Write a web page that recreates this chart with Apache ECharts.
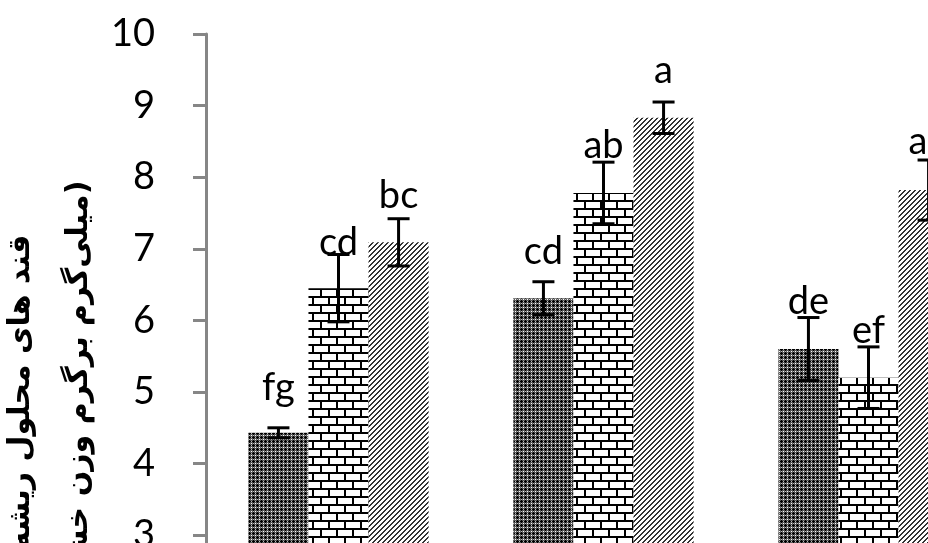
<!DOCTYPE html>
<html>
<head>
<meta charset="utf-8">
<script src="https://cdn.jsdelivr.net/npm/echarts@6/dist/echarts.min.js"></script>
<style>
html,body{margin:0;padding:0;background:#fff;}
#chart{width:928px;height:543px;}
</style>
</head>
<body>
<div id="chart"></div>
<script>
// ---- data ----
const categories = ['T1', 'T2', 'T3'];
const seriesNames = ['S1', 'S2', 'S3'];
const values1 = [4.43, 6.31, 5.60];
const values2 = [6.45, 7.78, 5.20];
const values3 = [7.09, 8.83, 7.82];
const errors1 = [0.07, 0.23, 0.44];
const errors2 = [0.47, 0.43, 0.43];
const errors3 = [0.33, 0.22, 0.42];
const letters1 = ['fg', 'cd', 'de'];
const letters2 = ['cd', 'ab', 'ef'];
const letters3 = ['bc', 'a', 'ab'];
const yTicks = [0, 1, 2, 3, 4, 5, 6, 7, 8, 9, 10];

// ---- styles ----
const labelGap1 = [28, 18, 4];
const labelGap2 = [0, 4, 4];
const labelGap3 = [11, 19, 6];

function makePattern(kind) {
  const c = document.createElement('canvas');
  const ctx = c.getContext('2d');
  if (kind === 'dark') {
    c.width = 4; c.height = 4;
    ctx.fillStyle = '#5a5a5a'; ctx.fillRect(0, 0, 4, 4);
    ctx.fillStyle = '#000';
    ctx.fillRect(1, 0, 1, 3); ctx.fillRect(0, 1, 3, 1);
    ctx.fillStyle = '#fff'; ctx.fillRect(3, 3, 1, 1);
    ctx.fillStyle = '#bbb'; ctx.fillRect(3, 1, 1, 1); ctx.fillRect(1, 3, 1, 1);
  } else if (kind === 'brick') {
    c.width = 16; c.height = 16;
    ctx.fillStyle = '#fff'; ctx.fillRect(0, 0, 16, 16);
    ctx.fillStyle = '#000';
    ctx.fillRect(0, 0, 16, 2);
    ctx.fillRect(0, 8, 16, 2);
    ctx.fillRect(0, 0, 2, 8);
    ctx.fillRect(8, 8, 2, 8);
  } else {
    c.width = 5; c.height = 5;
    ctx.fillStyle = '#fff'; ctx.fillRect(0, 0, 5, 5);
    ctx.fillStyle = '#333';
    for (let i = 0; i < 5; i++) {
      ctx.fillRect(i, 4 - i, 1, 1);
      ctx.fillRect((i + 1) % 5, 4 - i, 1, 1);
    }
  }
  return { image: c, repeat: 'repeat' };
}

const barWidthRatio = (1 - 0.32) / 3;

function errSeries(idx, vals, errs, letters, gaps) {
  return {
    type: 'custom',
    z: 10,
    silent: true,
    clip: false,
    data: vals.map((v, i) => [i, v, errs[i]]),
    renderItem: function (params, api) {
      const cat = api.value(0), v = api.value(1), e = api.value(2);
      const band = api.size([1, 0])[0];
      const bw = band * barWidthRatio;
      const off = (idx - 1) * bw;
      const top = api.coord([cat, v + e]);
      const bot = api.coord([cat, v - e]);
      const x = top[0] + off;
      const cap = 11;
      const ls = { stroke: '#000', lineWidth: 3 };
      return {
        type: 'group',
        children: [
          { type: 'line', shape: { x1: x, y1: top[1], x2: x, y2: bot[1] }, style: ls },
          { type: 'line', shape: { x1: x - cap, y1: top[1], x2: x + cap, y2: top[1] }, style: ls },
          { type: 'line', shape: { x1: x - cap, y1: bot[1], x2: x + cap, y2: bot[1] }, style: ls },
          { type: 'text', style: {
              text: letters[cat], x: x, y: top[1] - gaps[cat] + 7,
              align: 'center', verticalAlign: 'bottom',
              font: '38px Lato', fill: '#000' } }
        ]
      };
    }
  };
}

const chart = echarts.init(document.getElementById('chart'));
chart.setOption({
  animation: false,
  backgroundColor: '#fff',
  grid: { left: 206, top: 34, right: -73, bottom: -207, containLabel: false, outerBoundsMode: 'none' },
  xAxis: {
    type: 'category', data: categories,
    axisLine: { show: true, lineStyle: { color: '#868686', width: 3 } },
    axisTick: { show: false }, axisLabel: { show: false }
  },
  yAxis: {
    type: 'value', min: yTicks[0], max: yTicks[yTicks.length - 1], interval: 1,
    name: 'قند های محلول ریشه\n(میلی\u200cگرم برگرم وزن خشک)',
    nameLocation: 'middle', nameRotate: 90, nameGap: 98, nameMoveOverlap: false,
    nameTextStyle: { fontFamily: 'DejaVu Sans', fontWeight: 'bold', fontSize: 30, lineHeight: 58, color: '#000' },
    axisLine: { show: true, lineStyle: { color: '#868686', width: 3 } },
    axisTick: { show: true, length: 13, lineStyle: { color: '#868686', width: 3 } },
    splitLine: { show: false },
    axisLabel: { fontFamily: 'Lato', fontSize: 38, color: '#000', margin: 51 }
  },
  series: [
    { name: seriesNames[0], type: 'bar', data: values1, barGap: '0%', barCategoryGap: '32%', itemStyle: { color: makePattern('dark') } },
    { name: seriesNames[1], type: 'bar', data: values2, barGap: '0%', barCategoryGap: '32%', itemStyle: { color: makePattern('brick') } },
    { name: seriesNames[2], type: 'bar', data: values3, barGap: '0%', barCategoryGap: '32%', itemStyle: { color: makePattern('diag') } },
    errSeries(0, values1, errors1, letters1, labelGap1),
    errSeries(1, values2, errors2, letters2, labelGap2),
    errSeries(2, values3, errors3, letters3, labelGap3)
  ]
});
</script>
</body>
</html>
